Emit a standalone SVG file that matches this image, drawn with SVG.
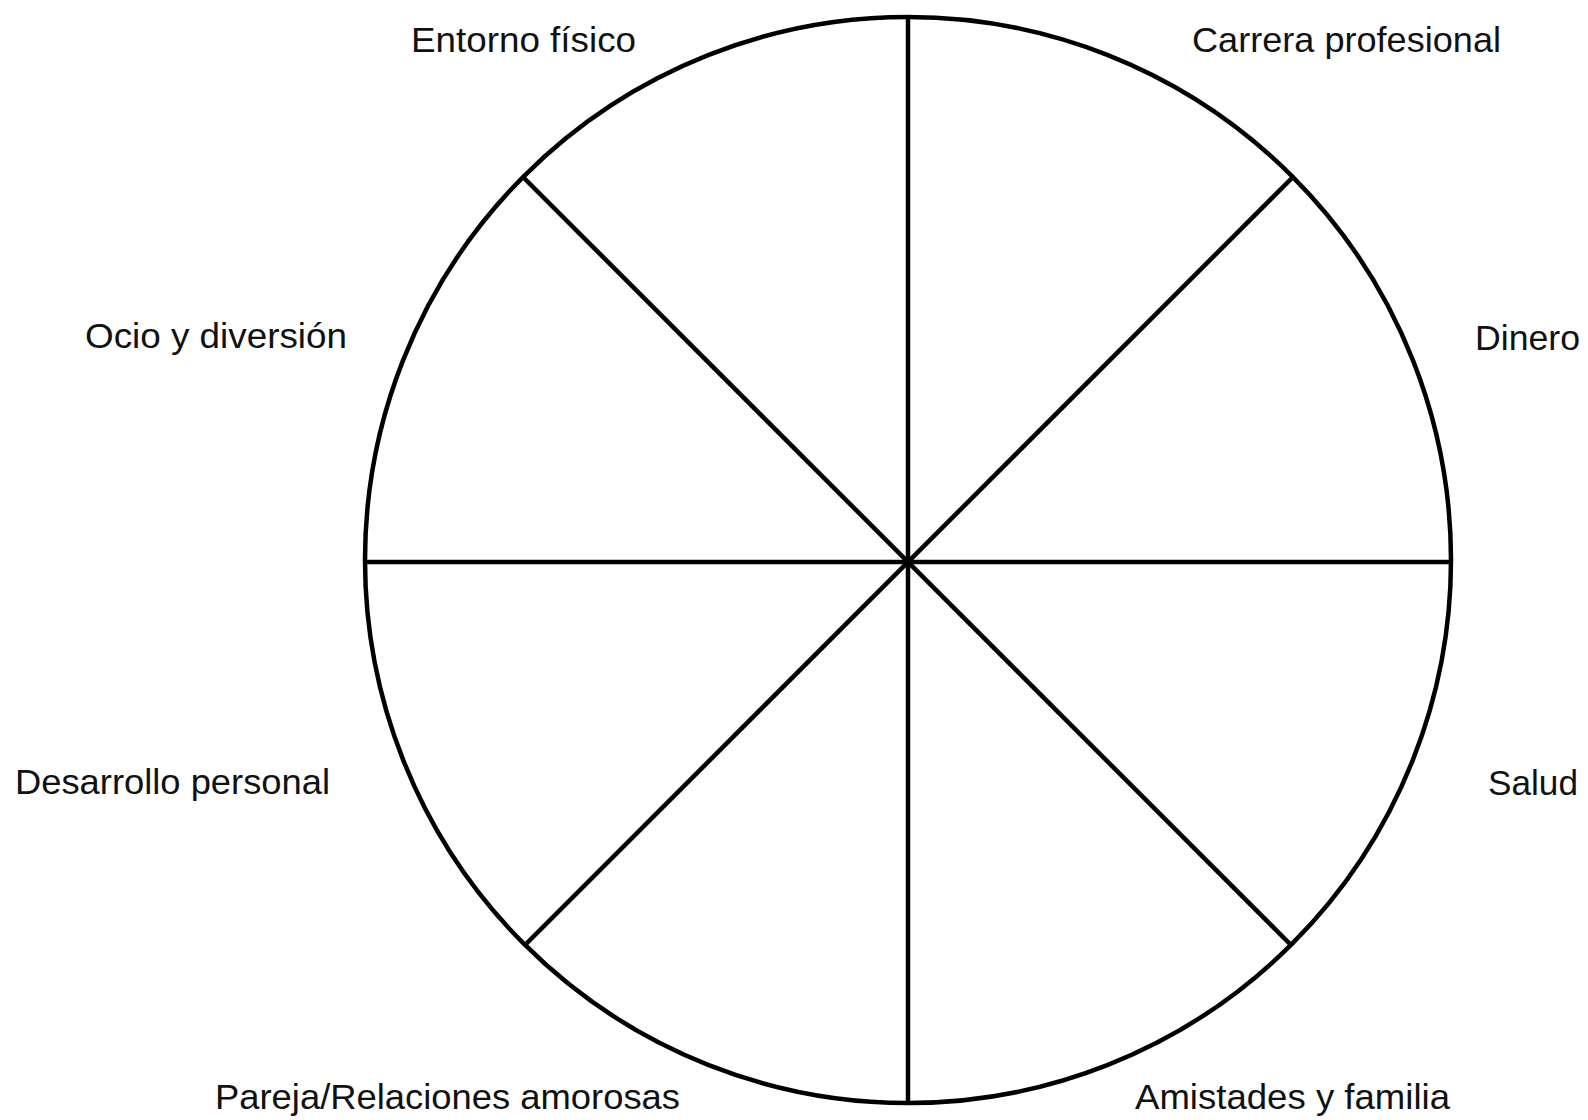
<svg xmlns="http://www.w3.org/2000/svg" width="1588" height="1120" viewBox="0 0 1588 1120">
<style>
.ln{stroke:#000;stroke-width:4.5;fill:none}
.lb{font-family:"Liberation Sans",Arial,Helvetica,sans-serif;font-size:35px;fill:#111}
</style>
<rect width="1588" height="1120" fill="#fff"/>
<g id="wheel">
<circle class="ln" cx="908" cy="560" r="543"/>
</g>
<g id="connectors">
<line class="ln" x1="908" y1="17" x2="908" y2="1103"/>
<line class="ln" x1="365" y1="562" x2="1451" y2="562"/>
<line class="ln" x1="524" y1="178" x2="1292" y2="946"/>
<line class="ln" x1="1292" y1="178" x2="524" y2="946"/>
</g>
<g id="n-entorno"><text class="lb" x="411" y="52" textLength="225" lengthAdjust="spacingAndGlyphs">Entorno físico</text></g>
<g id="n-carrera"><text class="lb" x="1192" y="52" textLength="309" lengthAdjust="spacingAndGlyphs">Carrera profesional</text></g>
<g id="n-ocio"><text class="lb" x="85" y="348" textLength="262" lengthAdjust="spacingAndGlyphs">Ocio y diversión</text></g>
<g id="n-dinero"><text class="lb" x="1475" y="350" textLength="105" lengthAdjust="spacingAndGlyphs">Dinero</text></g>
<g id="n-desarrollo"><text class="lb" x="15" y="794" textLength="315" lengthAdjust="spacingAndGlyphs">Desarrollo personal</text></g>
<g id="n-salud"><text class="lb" x="1488" y="795" textLength="90" lengthAdjust="spacingAndGlyphs">Salud</text></g>
<g id="n-pareja"><text class="lb" x="215" y="1109" textLength="465" lengthAdjust="spacingAndGlyphs">Pareja/Relaciones amorosas</text></g>
<g id="n-amistades"><text class="lb" x="1135" y="1109" textLength="315" lengthAdjust="spacingAndGlyphs">Amistades y familia</text></g>
</svg>
